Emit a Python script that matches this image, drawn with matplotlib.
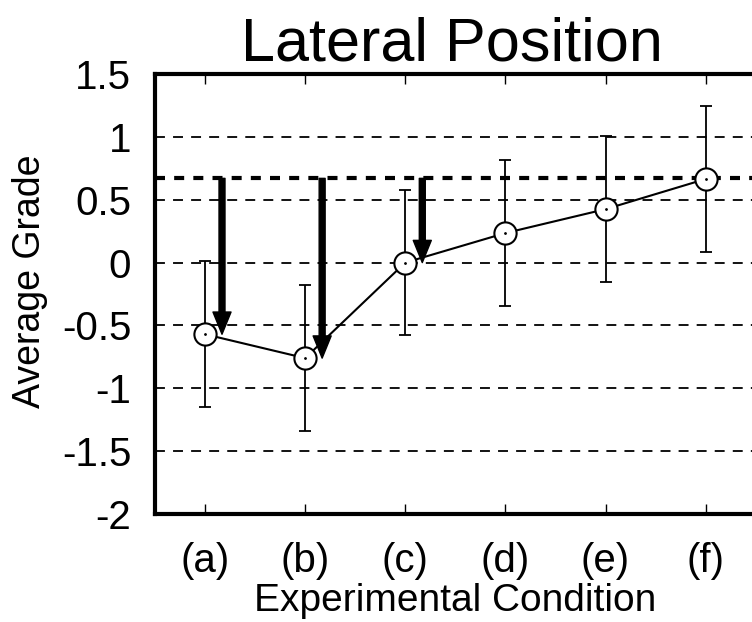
import numpy as np
import matplotlib
matplotlib.use('Agg')
import matplotlib.pyplot as plt

plt.rcParams['font.family'] = ['Liberation Sans', 'DejaVu Sans']

conditions = ['(a)', '(b)', '(c)', '(d)', '(e)', '(f)']
grades = [-0.57, -0.76, 0.0, 0.235, 0.425, 0.665]
errors = [0.58, 0.58, 0.575, 0.58, 0.58, 0.58]
ref_grade = 0.67
arrow_idx = [0, 1, 2]
yticks = [-2, -1.5, -1, -0.5, 0, 0.5, 1, 1.5]
ytick_labels = ['-2', '-1.5', '-1', '-0.5', '0', '0.5', '1', '1.5']

x = np.arange(1, len(conditions) + 1)

fig = plt.figure(figsize=(7.52, 6.22), dpi=100)
# right edge of the axes runs just past the figure edge, like the original
ax = fig.add_axes([0.206, 0.1736, 0.799, 0.7074])

# grid
for yv in yticks[1:-1]:
    ax.axhline(yv, color='black', lw=1.3, dashes=(5.5, 4.5), zorder=1)
ax.axhline(ref_grade, color='black', lw=3, dashes=(2.4, 2.2), zorder=2)

ax.errorbar(x, grades, yerr=errors, fmt='none', ecolor='black',
            elinewidth=1.3, capsize=4, capthick=1.3, zorder=3)
ax.plot(x, grades, color='black', lw=1.5, zorder=4)
ax.plot(x, grades, 'o', ms=16, mfc='white', mec='black', mew=1.5, zorder=5)
ax.plot(x, grades, '.', ms=2, color='black', zorder=6)

for i in arrow_idx:
    ax.annotate('', xy=(x[i] + 0.17, grades[i]), xytext=(x[i] + 0.17, ref_grade),
                arrowprops=dict(facecolor='black', edgecolor='black', width=4.3,
                                headwidth=13, headlength=16, shrink=0),
                zorder=7)

ax.set_xlim(0.5, 6.5)
ax.set_ylim(-2, 1.5)
ax.set_xticks(x)
ax.set_xticklabels(conditions, fontsize=29)
ax.set_yticks(yticks)
ax.set_yticklabels(ytick_labels, fontsize=29)
ax.tick_params(axis='x', direction='in', length=7, width=1, top=True, pad=20)
ax.tick_params(axis='y', direction='in', length=0, pad=17)

for s in ax.spines.values():
    s.set_linewidth(3)

ax.set_xlabel('Experimental Condition', fontsize=28, labelpad=2)
ax.set_ylabel('Average Grade', fontsize=27)
ax.yaxis.set_label_coords(-0.178, 0.53)
ax.set_title('Lateral Position', fontsize=44, pad=10, x=0.495)

fig.savefig('out.png', dpi=100)
